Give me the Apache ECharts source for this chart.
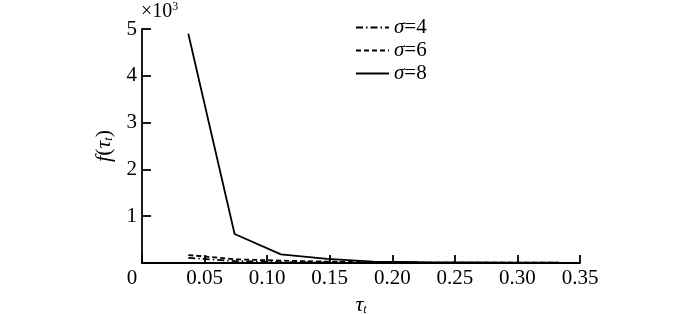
<!DOCTYPE html>
<html>
<head>
<meta charset="utf-8">
<script src="https://cdn.jsdelivr.net/npm/echarts@6/dist/echarts.min.js"></script>
<style>html,body{margin:0;padding:0;background:#fff}#c{width:700px;height:314px}</style>
</head>
<body>
<div id="c"></div>
<script>
const tau = [0.037, 0.074, 0.111, 0.148, 0.185, 0.222, 0.259, 0.296, 0.333];
const sigma4 = [0.11, 0.04, 0.02, 0.01, 0.008, 0.005, 0.004, 0.003, 0.003];
const sigma6 = [0.17, 0.08, 0.05, 0.03, 0.02, 0.01, 0.008, 0.006, 0.005];
const sigma8 = [4.9, 0.62, 0.185, 0.09, 0.03, 0.02, 0.015, 0.01, 0.01];
const seriesNames = ['σ=4', 'σ=6', 'σ=8'];
const xTicks = [0, 0.05, 0.10, 0.15, 0.20, 0.25, 0.30, 0.35];
const yTicks = [0, 1, 2, 3, 4, 5];

const FONT = "'Liberation Serif','Times New Roman',serif";
const FS = 21;
const chart = echarts.init(document.getElementById('c'));
const pair = (xs, ys) => xs.map((x, i) => [x, ys[i]]);
const lineTypes = [[7, 3, 1.5, 3], [5, 3], 'solid'];
const datas = [sigma4, sigma6, sigma8];

chart.setOption({
  animation: false,
  backgroundColor: '#fff',
  grid: { left: 142, right: 120, top: 29, bottom: 51, containLabel: false, outerBoundsMode: 'none' },
  legend: {
    orient: 'vertical',
    left: 350,
    top: 12,
    itemWidth: 33,
    itemHeight: 12,
    itemGap: 2,
    data: seriesNames,
    itemStyle: { opacity: 0 },
    formatter: n => '{i|σ}{n|' + n.slice(1) + '}',
    textStyle: {
      fontFamily: FONT, fontSize: FS, color: '#000',
      rich: {
        i: { fontFamily: FONT, fontSize: FS, fontStyle: 'italic', color: '#000' },
        n: { fontFamily: FONT, fontSize: FS, color: '#000' }
      }
    }
  },
  xAxis: {
    type: 'value', min: 0, max: 0.35, interval: 0.05,
    name: '{i|τ}{s|t}', nameLocation: 'middle', nameGap: 30,
    nameTextStyle: {
      rich: {
        i: { fontFamily: FONT, fontSize: 22, fontStyle: 'italic', color: '#000' },
        s: { fontFamily: FONT, fontSize: 12, fontStyle: 'italic', color: '#000', verticalAlign: 'bottom', padding: [9, 0, 0, 0] }
      }
    },
    axisLine: { show: true, lineStyle: { color: '#000', width: 1.8 } },
    axisTick: { show: true, inside: true, length: 8, lineStyle: { color: '#000', width: 1.8 } },
    splitLine: { show: false },
    axisLabel: {
      margin: 5,
      fontFamily: FONT, fontSize: FS, color: '#000',
      formatter: v => {
        if (Math.abs(v) < 1e-9) return '{z|0}';
        return v.toFixed(2);
      },
      rich: { z: { fontFamily: FONT, fontSize: FS, color: '#000', padding: [0, 20, 0, 0] } }
    }
  },
  yAxis: {
    type: 'value', min: 0, max: 5, interval: 1,
    name: '{i|f}{n|(}{i|τ}{s|t}{n|)}', nameLocation: 'middle', nameGap: 27, nameRotate: 90,
    nameTextStyle: {
      rich: {
        i: { fontFamily: FONT, fontSize: 22, fontStyle: 'italic', color: '#000' },
        n: { fontFamily: FONT, fontSize: 22, color: '#000' },
        s: { fontFamily: FONT, fontSize: 12, fontStyle: 'italic', color: '#000', verticalAlign: 'bottom', padding: [9, 0, 0, 0] }
      }
    },
    axisLine: { show: true, lineStyle: { color: '#000', width: 1.8 } },
    axisTick: { show: true, inside: true, length: 9, lineStyle: { color: '#000', width: 1.8 } },
    splitLine: { show: false },
    axisLabel: {
      margin: 5,
      fontFamily: FONT, fontSize: FS, color: '#000',
      formatter: v => (v === 0 ? '' : String(v))
    }
  },
  graphic: [{
    type: 'text', left: 141, top: 1,
    style: {
      text: '{a|×10}{b|3}',
      rich: {
        a: { fontFamily: FONT, fontSize: 20, fill: '#000' },
        b: { fontFamily: FONT, fontSize: 12, fill: '#000', verticalAlign: 'top', padding: [0, 0, 9, 0] }
      }
    }
  }],
  series: seriesNames.map((n, i) => ({
    name: n, type: 'line', symbol: 'none',
    data: pair(tau, datas[i]),
    lineStyle: { color: '#000', width: 1.8, type: lineTypes[i] },
    itemStyle: { color: '#000' }
  }))
});
</script>
</body>
</html>
